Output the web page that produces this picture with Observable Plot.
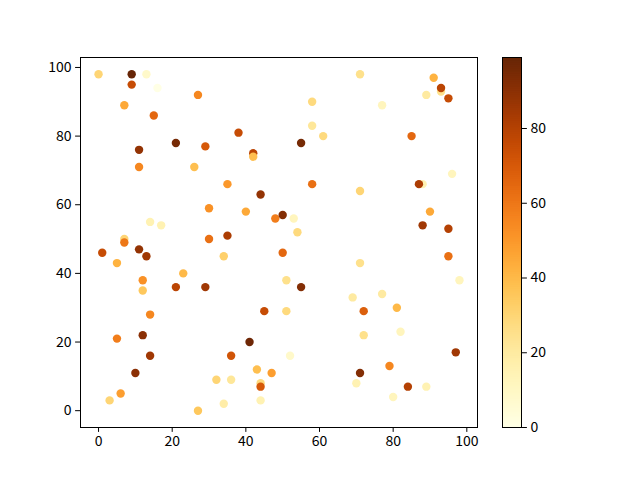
<!DOCTYPE html>
<html>
<head>
<meta charset="utf-8">
<script src="https://cdn.jsdelivr.net/npm/d3@7"></script>
<script src="https://cdn.jsdelivr.net/npm/@observablehq/plot@0.6"></script>
<style>
  html, body { margin: 0; padding: 0; background: #fff; }
  #wrap { position: relative; width: 640px; height: 480px; }
  #wrap > svg, #wrap > figure { position: absolute; top: 0; margin: 0; }
</style>
</head>
<body>
<div id="wrap"></div>
<script>
const xs = [0,9,13,9,16,27,7,15,38,21,11,29,42,42,11,26,35,44,30,40,48,50,14,17,
  71,91,93,93,89,95,58,77,58,61,55,85,96,58,71,88,87,53,54,90,88,95,
  7,7,1,11,13,5,30,35,34,50,12,12,23,21,29,14,45,5,12,41,14,36,10,43,47,32,36,44,44,6,3,34,27,44,
  95,71,51,55,98,69,77,72,81,51,72,82,52,97,79,71,70,84,89,80];
const ys = [98,98,98,95,94,92,89,86,81,78,76,77,75,74,71,71,66,63,59,58,56,57,55,54,
  98,97,93,94,92,91,90,89,83,80,78,80,69,66,64,66,66,56,52,58,54,53,
  50,49,46,47,45,43,50,51,45,46,38,35,40,36,36,28,29,21,22,20,16,16,11,12,11,9,9,8,7,5,3,2,0,3,
  45,43,38,36,38,33,34,29,30,29,22,23,16,17,13,11,8,7,7,4];
const cs = [30,99,8,75,0,55,45,65,75,95,88,70,78,38,55,38,50,88,52,45,58,92,15,15,
  25,42,25,78,20,75,28,12,22,28,95,65,12,62,30,15,82,12,28,45,85,80,
  30,60,75,88,85,42,62,82,32,65,52,35,40,78,85,55,75,58,90,97,85,72,90,38,48,30,22,28,70,48,30,18,35,15,
  62,25,25,92,12,20,20,68,40,28,25,12,8,85,55,92,15,80,15,12];
const xTicks = [0,20,40,60,80,100];
const yTicks = [0,20,40,60,80,100];
const cTicks = [0,20,40,60,80];
const cDomain = [0,99];

const data = xs.map((x, i) => ({x, y: ys[i], c: cs[i]}));
const font = "'Noto Sans CJK SC', 'DejaVu Sans', sans-serif";

const main = Plot.plot({
  width: 640, height: 480,
  marginLeft: 80, marginRight: 163, marginTop: 57, marginBottom: 53,
  style: {fontFamily: font, fontSize: "14px", color: "black", background: "transparent"},
  x: {domain: [-4.9, 102.9]},
  y: {domain: [-4.9, 102.9]},
  color: {type: "linear", scheme: "YlOrBr", domain: cDomain},
  marks: [
    Plot.dot(data, {x: "x", y: "y", fill: "c", r: 4.2}),
    Plot.frame({stroke: "black", strokeWidth: 1}),
    Plot.axisX({ticks: xTicks, tickSize: 4.9, tickPadding: 4, label: null, fontSize: 14}),
    Plot.axisY({ticks: yTicks, tickSize: 4.9, tickPadding: 4, label: null, fontSize: 14})
  ]
});
main.style.left = "0px";
document.getElementById("wrap").appendChild(main);

const step = 0.5;
const steps = d3.range(cDomain[0], cDomain[1], step);
const bar = Plot.plot({
  width: 60, height: 480,
  marginLeft: 0, marginRight: 41, marginTop: 57, marginBottom: 53,
  style: {fontFamily: font, fontSize: "14px", color: "black", background: "transparent"},
  x: {domain: [0, 1], axis: null},
  y: {domain: cDomain},
  color: {type: "linear", scheme: "YlOrBr", domain: cDomain},
  marks: [
    Plot.rect(steps, {x1: 0, x2: 1, y1: d => d, y2: d => Math.min(d + step * 1.5, cDomain[1]), fill: d => d + step / 2}),
    Plot.frame({stroke: "black", strokeWidth: 1}),
    Plot.axisY({anchor: "right", ticks: cTicks, tickSize: 4.9, tickPadding: 4, label: null, fontSize: 14})
  ]
});
bar.style.left = "502px";
document.getElementById("wrap").appendChild(bar);
</script>
</body>
</html>
